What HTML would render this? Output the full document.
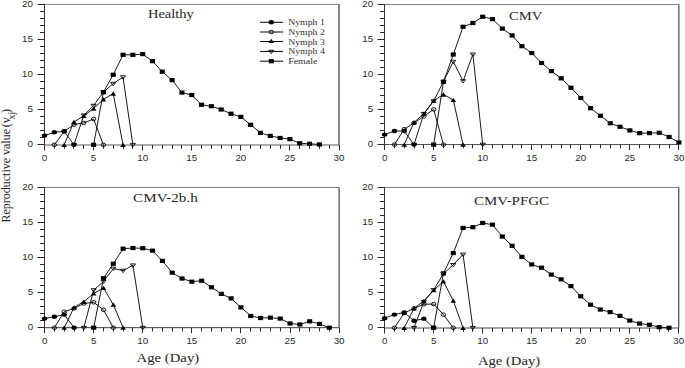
<!DOCTYPE html>
<html><head><meta charset="utf-8"><title>Reproductive value</title><style>
html,body{margin:0;padding:0;background:#fff;width:685px;height:368px;overflow:hidden;position:relative}
.tk{font-family:"Liberation Sans",sans-serif;font-size:8.6px;fill:#2a2a2a}
.ti{font-family:"Liberation Serif",serif;font-size:12px;fill:#262626}
.lg{font-family:"Liberation Serif",serif;font-size:8px;fill:#303030}
.yl{font-family:"Liberation Serif",serif;font-size:12px;fill:#262626}
</style></head><body>
<svg width="685" height="368" viewBox="0 0 685 368" style="position:absolute;left:0;top:0">
<rect width="685" height="368" fill="#fff"/>
<line x1="44.5" y1="4.4" x2="339" y2="4.4" stroke="#808080" stroke-width="1"/>
<line x1="339" y1="4.4" x2="339" y2="145" stroke="#111" stroke-width="1"/>
<line x1="44.5" y1="145" x2="339" y2="145" stroke="#5a5a5a" stroke-width="1"/>
<line x1="37.5" y1="144.5" x2="44.5" y2="144.5" stroke="#2a2a2a" stroke-width="1"/>
<line x1="40" y1="137.5" x2="44.5" y2="137.5" stroke="#2a2a2a" stroke-width="1"/>
<line x1="40" y1="130.5" x2="44.5" y2="130.5" stroke="#2a2a2a" stroke-width="1"/>
<line x1="40" y1="123.5" x2="44.5" y2="123.5" stroke="#2a2a2a" stroke-width="1"/>
<line x1="40" y1="116.5" x2="44.5" y2="116.5" stroke="#2a2a2a" stroke-width="1"/>
<line x1="37.5" y1="109.5" x2="44.5" y2="109.5" stroke="#2a2a2a" stroke-width="1"/>
<line x1="40" y1="102.5" x2="44.5" y2="102.5" stroke="#2a2a2a" stroke-width="1"/>
<line x1="40" y1="95.5" x2="44.5" y2="95.5" stroke="#2a2a2a" stroke-width="1"/>
<line x1="40" y1="88.5" x2="44.5" y2="88.5" stroke="#2a2a2a" stroke-width="1"/>
<line x1="40" y1="81.5" x2="44.5" y2="81.5" stroke="#2a2a2a" stroke-width="1"/>
<line x1="37.5" y1="74.5" x2="44.5" y2="74.5" stroke="#2a2a2a" stroke-width="1"/>
<line x1="40" y1="67.5" x2="44.5" y2="67.5" stroke="#2a2a2a" stroke-width="1"/>
<line x1="40" y1="60.5" x2="44.5" y2="60.5" stroke="#2a2a2a" stroke-width="1"/>
<line x1="40" y1="53.5" x2="44.5" y2="53.5" stroke="#2a2a2a" stroke-width="1"/>
<line x1="40" y1="46.5" x2="44.5" y2="46.5" stroke="#2a2a2a" stroke-width="1"/>
<line x1="37.5" y1="39.5" x2="44.5" y2="39.5" stroke="#2a2a2a" stroke-width="1"/>
<line x1="40" y1="32.5" x2="44.5" y2="32.5" stroke="#2a2a2a" stroke-width="1"/>
<line x1="40" y1="25.5" x2="44.5" y2="25.5" stroke="#2a2a2a" stroke-width="1"/>
<line x1="40" y1="18.5" x2="44.5" y2="18.5" stroke="#2a2a2a" stroke-width="1"/>
<line x1="40" y1="11.5" x2="44.5" y2="11.5" stroke="#2a2a2a" stroke-width="1"/>
<line x1="37.5" y1="4.5" x2="44.5" y2="4.5" stroke="#2a2a2a" stroke-width="1"/>
<line x1="44.5" y1="145" x2="44.5" y2="150.5" stroke="#2a2a2a" stroke-width="1"/>
<line x1="54.5" y1="145" x2="54.5" y2="148.8" stroke="#2a2a2a" stroke-width="1"/>
<line x1="64.5" y1="145" x2="64.5" y2="148.8" stroke="#2a2a2a" stroke-width="1"/>
<line x1="73.5" y1="145" x2="73.5" y2="148.8" stroke="#2a2a2a" stroke-width="1"/>
<line x1="83.5" y1="145" x2="83.5" y2="148.8" stroke="#2a2a2a" stroke-width="1"/>
<line x1="93.5" y1="145" x2="93.5" y2="150.5" stroke="#2a2a2a" stroke-width="1"/>
<line x1="103.5" y1="145" x2="103.5" y2="148.8" stroke="#2a2a2a" stroke-width="1"/>
<line x1="113.5" y1="145" x2="113.5" y2="148.8" stroke="#2a2a2a" stroke-width="1"/>
<line x1="123.5" y1="145" x2="123.5" y2="148.8" stroke="#2a2a2a" stroke-width="1"/>
<line x1="132.5" y1="145" x2="132.5" y2="148.8" stroke="#2a2a2a" stroke-width="1"/>
<line x1="142.5" y1="145" x2="142.5" y2="150.5" stroke="#2a2a2a" stroke-width="1"/>
<line x1="152.5" y1="145" x2="152.5" y2="148.8" stroke="#2a2a2a" stroke-width="1"/>
<line x1="162.5" y1="145" x2="162.5" y2="148.8" stroke="#2a2a2a" stroke-width="1"/>
<line x1="172.5" y1="145" x2="172.5" y2="148.8" stroke="#2a2a2a" stroke-width="1"/>
<line x1="181.5" y1="145" x2="181.5" y2="148.8" stroke="#2a2a2a" stroke-width="1"/>
<line x1="191.5" y1="145" x2="191.5" y2="150.5" stroke="#2a2a2a" stroke-width="1"/>
<line x1="201.5" y1="145" x2="201.5" y2="148.8" stroke="#2a2a2a" stroke-width="1"/>
<line x1="211.5" y1="145" x2="211.5" y2="148.8" stroke="#2a2a2a" stroke-width="1"/>
<line x1="221.5" y1="145" x2="221.5" y2="148.8" stroke="#2a2a2a" stroke-width="1"/>
<line x1="231.5" y1="145" x2="231.5" y2="148.8" stroke="#2a2a2a" stroke-width="1"/>
<line x1="240.5" y1="145" x2="240.5" y2="150.5" stroke="#2a2a2a" stroke-width="1"/>
<line x1="250.5" y1="145" x2="250.5" y2="148.8" stroke="#2a2a2a" stroke-width="1"/>
<line x1="260.5" y1="145" x2="260.5" y2="148.8" stroke="#2a2a2a" stroke-width="1"/>
<line x1="270.5" y1="145" x2="270.5" y2="148.8" stroke="#2a2a2a" stroke-width="1"/>
<line x1="280.5" y1="145" x2="280.5" y2="148.8" stroke="#2a2a2a" stroke-width="1"/>
<line x1="289.5" y1="145" x2="289.5" y2="150.5" stroke="#2a2a2a" stroke-width="1"/>
<line x1="299.5" y1="145" x2="299.5" y2="148.8" stroke="#2a2a2a" stroke-width="1"/>
<line x1="309.5" y1="145" x2="309.5" y2="148.8" stroke="#2a2a2a" stroke-width="1"/>
<line x1="319.5" y1="145" x2="319.5" y2="148.8" stroke="#2a2a2a" stroke-width="1"/>
<line x1="329.5" y1="145" x2="329.5" y2="148.8" stroke="#2a2a2a" stroke-width="1"/>
<line x1="339.5" y1="145" x2="339.5" y2="150.5" stroke="#2a2a2a" stroke-width="1"/>
<line x1="44.5" y1="3.9" x2="44.5" y2="145.5" stroke="#333" stroke-width="1"/>
<text transform="translate(33,147.3) scale(1.14,1)" class="tk" text-anchor="end">0</text>
<text transform="translate(33,112.15) scale(1.14,1)" class="tk" text-anchor="end">5</text>
<text transform="translate(33,77) scale(1.14,1)" class="tk" text-anchor="end">10</text>
<text transform="translate(33,41.85) scale(1.14,1)" class="tk" text-anchor="end">15</text>
<text transform="translate(33,6.7) scale(1.14,1)" class="tk" text-anchor="end">20</text>
<text transform="translate(44.5,160.6) scale(1.14,1)" class="tk" text-anchor="middle">0</text>
<text transform="translate(93.58,160.6) scale(1.14,1)" class="tk" text-anchor="middle">5</text>
<text transform="translate(142.67,160.6) scale(1.14,1)" class="tk" text-anchor="middle">10</text>
<text transform="translate(191.75,160.6) scale(1.14,1)" class="tk" text-anchor="middle">15</text>
<text transform="translate(240.83,160.6) scale(1.14,1)" class="tk" text-anchor="middle">20</text>
<text transform="translate(289.92,160.6) scale(1.14,1)" class="tk" text-anchor="middle">25</text>
<text transform="translate(339,160.6) scale(1.14,1)" class="tk" text-anchor="middle">30</text>
<polyline points="44.5,135.59 54.32,132.29 64.13,131.23 73.95,144.8" fill="none" stroke="#000" stroke-width="0.9" stroke-linejoin="round"/>
<polyline points="54.32,144.8 64.13,131.44 73.95,124.62 83.77,122.87 93.58,119 103.4,144.8" fill="none" stroke="#000" stroke-width="0.9" stroke-linejoin="round"/>
<polyline points="64.13,144.8 73.95,121.95 83.77,115.91 93.58,108.53 103.4,99.39 113.22,93.48 123.03,144.8" fill="none" stroke="#000" stroke-width="0.9" stroke-linejoin="round"/>
<polyline points="73.95,144.8 83.77,115.27 93.58,105.64 103.4,92.08 113.22,83.64 123.03,77.1 132.85,144.8" fill="none" stroke="#000" stroke-width="0.9" stroke-linejoin="round"/>
<polyline points="93.58,144.8 103.4,92.22 113.22,74.78 123.03,54.82 132.85,54.82 142.67,54.11 152.48,61.14 162.3,71.69 172.12,80.12 181.93,92.57 191.75,95.03 201.57,104.8 211.38,106.21 221.2,109.51 231.02,113.73 240.83,116.89 250.65,124.83 260.47,132.85 270.28,135.87 280.1,137.98 289.92,139.11 299.73,143.25 309.55,143.82 319.37,144.45" fill="none" stroke="#000" stroke-width="0.9" stroke-linejoin="round"/>
<ellipse cx="44.5" cy="135.59" rx="2.7" ry="2.2" fill="#000"/>
<ellipse cx="54.32" cy="132.29" rx="2.7" ry="2.2" fill="#000"/>
<ellipse cx="64.13" cy="131.23" rx="2.7" ry="2.2" fill="#000"/>
<ellipse cx="73.95" cy="144.8" rx="2.7" ry="2.2" fill="#000"/>
<ellipse cx="54.32" cy="144.8" rx="2.25" ry="1.75" fill="none" stroke="#000" stroke-width="0.9"/>
<ellipse cx="64.13" cy="131.44" rx="2.25" ry="1.75" fill="none" stroke="#000" stroke-width="0.9"/>
<ellipse cx="73.95" cy="124.62" rx="2.25" ry="1.75" fill="none" stroke="#000" stroke-width="0.9"/>
<ellipse cx="83.77" cy="122.87" rx="2.25" ry="1.75" fill="none" stroke="#000" stroke-width="0.9"/>
<ellipse cx="93.58" cy="119" rx="2.25" ry="1.75" fill="none" stroke="#000" stroke-width="0.9"/>
<ellipse cx="103.4" cy="144.8" rx="2.25" ry="1.75" fill="none" stroke="#000" stroke-width="0.9"/>
<path d="M64.13 142.65L66.93 146.95L61.33 146.95Z" fill="#000"/>
<path d="M73.95 119.8L76.75 124.1L71.15 124.1Z" fill="#000"/>
<path d="M83.77 113.76L86.57 118.06L80.97 118.06Z" fill="#000"/>
<path d="M93.58 106.38L96.38 110.68L90.78 110.68Z" fill="#000"/>
<path d="M103.4 97.24L106.2 101.54L100.6 101.54Z" fill="#000"/>
<path d="M113.22 91.33L116.02 95.63L110.42 95.63Z" fill="#000"/>
<path d="M123.03 142.65L125.83 146.95L120.23 146.95Z" fill="#000"/>
<path d="M71.4 143.44L76.5 143.44L73.95 146.84Z" fill="none" stroke="#000" stroke-width="0.9" stroke-linejoin="miter"/>
<path d="M81.22 113.91L86.32 113.91L83.77 117.31Z" fill="none" stroke="#000" stroke-width="0.9" stroke-linejoin="miter"/>
<path d="M91.03 104.28L96.13 104.28L93.58 107.68Z" fill="none" stroke="#000" stroke-width="0.9" stroke-linejoin="miter"/>
<path d="M100.85 90.72L105.95 90.72L103.4 94.12Z" fill="none" stroke="#000" stroke-width="0.9" stroke-linejoin="miter"/>
<path d="M110.67 82.28L115.77 82.28L113.22 85.68Z" fill="none" stroke="#000" stroke-width="0.9" stroke-linejoin="miter"/>
<path d="M120.48 75.74L125.58 75.74L123.03 79.14Z" fill="none" stroke="#000" stroke-width="0.9" stroke-linejoin="miter"/>
<path d="M130.3 143.44L135.4 143.44L132.85 146.84Z" fill="none" stroke="#000" stroke-width="0.9" stroke-linejoin="miter"/>
<rect x="91.03" y="142.7" width="5.1" height="4.2" fill="#000"/>
<rect x="100.85" y="90.12" width="5.1" height="4.2" fill="#000"/>
<rect x="110.67" y="72.68" width="5.1" height="4.2" fill="#000"/>
<rect x="120.48" y="52.72" width="5.1" height="4.2" fill="#000"/>
<rect x="130.3" y="52.72" width="5.1" height="4.2" fill="#000"/>
<rect x="140.12" y="52.01" width="5.1" height="4.2" fill="#000"/>
<rect x="149.93" y="59.04" width="5.1" height="4.2" fill="#000"/>
<rect x="159.75" y="69.59" width="5.1" height="4.2" fill="#000"/>
<rect x="169.57" y="78.02" width="5.1" height="4.2" fill="#000"/>
<rect x="179.38" y="90.47" width="5.1" height="4.2" fill="#000"/>
<rect x="189.2" y="92.93" width="5.1" height="4.2" fill="#000"/>
<rect x="199.02" y="102.7" width="5.1" height="4.2" fill="#000"/>
<rect x="208.83" y="104.11" width="5.1" height="4.2" fill="#000"/>
<rect x="218.65" y="107.41" width="5.1" height="4.2" fill="#000"/>
<rect x="228.47" y="111.63" width="5.1" height="4.2" fill="#000"/>
<rect x="238.28" y="114.79" width="5.1" height="4.2" fill="#000"/>
<rect x="248.1" y="122.73" width="5.1" height="4.2" fill="#000"/>
<rect x="257.92" y="130.75" width="5.1" height="4.2" fill="#000"/>
<rect x="267.73" y="133.77" width="5.1" height="4.2" fill="#000"/>
<rect x="277.55" y="135.88" width="5.1" height="4.2" fill="#000"/>
<rect x="287.37" y="137.01" width="5.1" height="4.2" fill="#000"/>
<rect x="297.18" y="141.15" width="5.1" height="4.2" fill="#000"/>
<rect x="307" y="141.72" width="5.1" height="4.2" fill="#000"/>
<rect x="316.82" y="142.35" width="5.1" height="4.2" fill="#000"/>
<text x="147.9" y="18" class="ti" textLength="46" lengthAdjust="spacingAndGlyphs">Healthy</text>
<line x1="384.5" y1="4.5" x2="678.9" y2="4.5" stroke="#808080" stroke-width="1"/>
<line x1="678.9" y1="4.5" x2="678.9" y2="144.5" stroke="#222" stroke-width="1"/>
<line x1="384.5" y1="144.5" x2="678.9" y2="144.5" stroke="#555" stroke-width="1"/>
<line x1="377.5" y1="144.5" x2="384.5" y2="144.5" stroke="#2a2a2a" stroke-width="1"/>
<line x1="380" y1="137.5" x2="384.5" y2="137.5" stroke="#2a2a2a" stroke-width="1"/>
<line x1="380" y1="130.5" x2="384.5" y2="130.5" stroke="#2a2a2a" stroke-width="1"/>
<line x1="380" y1="123.5" x2="384.5" y2="123.5" stroke="#2a2a2a" stroke-width="1"/>
<line x1="380" y1="116.5" x2="384.5" y2="116.5" stroke="#2a2a2a" stroke-width="1"/>
<line x1="377.5" y1="109.5" x2="384.5" y2="109.5" stroke="#2a2a2a" stroke-width="1"/>
<line x1="380" y1="102.5" x2="384.5" y2="102.5" stroke="#2a2a2a" stroke-width="1"/>
<line x1="380" y1="95.5" x2="384.5" y2="95.5" stroke="#2a2a2a" stroke-width="1"/>
<line x1="380" y1="88.5" x2="384.5" y2="88.5" stroke="#2a2a2a" stroke-width="1"/>
<line x1="380" y1="81.5" x2="384.5" y2="81.5" stroke="#2a2a2a" stroke-width="1"/>
<line x1="377.5" y1="74.5" x2="384.5" y2="74.5" stroke="#2a2a2a" stroke-width="1"/>
<line x1="380" y1="67.5" x2="384.5" y2="67.5" stroke="#2a2a2a" stroke-width="1"/>
<line x1="380" y1="60.5" x2="384.5" y2="60.5" stroke="#2a2a2a" stroke-width="1"/>
<line x1="380" y1="53.5" x2="384.5" y2="53.5" stroke="#2a2a2a" stroke-width="1"/>
<line x1="380" y1="46.5" x2="384.5" y2="46.5" stroke="#2a2a2a" stroke-width="1"/>
<line x1="377.5" y1="39.5" x2="384.5" y2="39.5" stroke="#2a2a2a" stroke-width="1"/>
<line x1="380" y1="32.5" x2="384.5" y2="32.5" stroke="#2a2a2a" stroke-width="1"/>
<line x1="380" y1="25.5" x2="384.5" y2="25.5" stroke="#2a2a2a" stroke-width="1"/>
<line x1="380" y1="18.5" x2="384.5" y2="18.5" stroke="#2a2a2a" stroke-width="1"/>
<line x1="380" y1="11.5" x2="384.5" y2="11.5" stroke="#2a2a2a" stroke-width="1"/>
<line x1="377.5" y1="4.5" x2="384.5" y2="4.5" stroke="#2a2a2a" stroke-width="1"/>
<line x1="384.5" y1="144.5" x2="384.5" y2="150" stroke="#2a2a2a" stroke-width="1"/>
<line x1="394.5" y1="144.5" x2="394.5" y2="148.3" stroke="#2a2a2a" stroke-width="1"/>
<line x1="404.5" y1="144.5" x2="404.5" y2="148.3" stroke="#2a2a2a" stroke-width="1"/>
<line x1="414.5" y1="144.5" x2="414.5" y2="148.3" stroke="#2a2a2a" stroke-width="1"/>
<line x1="423.5" y1="144.5" x2="423.5" y2="148.3" stroke="#2a2a2a" stroke-width="1"/>
<line x1="433.5" y1="144.5" x2="433.5" y2="150" stroke="#2a2a2a" stroke-width="1"/>
<line x1="443.5" y1="144.5" x2="443.5" y2="148.3" stroke="#2a2a2a" stroke-width="1"/>
<line x1="453.5" y1="144.5" x2="453.5" y2="148.3" stroke="#2a2a2a" stroke-width="1"/>
<line x1="463.5" y1="144.5" x2="463.5" y2="148.3" stroke="#2a2a2a" stroke-width="1"/>
<line x1="472.5" y1="144.5" x2="472.5" y2="148.3" stroke="#2a2a2a" stroke-width="1"/>
<line x1="482.5" y1="144.5" x2="482.5" y2="150" stroke="#2a2a2a" stroke-width="1"/>
<line x1="492.5" y1="144.5" x2="492.5" y2="148.3" stroke="#2a2a2a" stroke-width="1"/>
<line x1="502.5" y1="144.5" x2="502.5" y2="148.3" stroke="#2a2a2a" stroke-width="1"/>
<line x1="512.5" y1="144.5" x2="512.5" y2="148.3" stroke="#2a2a2a" stroke-width="1"/>
<line x1="521.5" y1="144.5" x2="521.5" y2="148.3" stroke="#2a2a2a" stroke-width="1"/>
<line x1="531.5" y1="144.5" x2="531.5" y2="150" stroke="#2a2a2a" stroke-width="1"/>
<line x1="541.5" y1="144.5" x2="541.5" y2="148.3" stroke="#2a2a2a" stroke-width="1"/>
<line x1="551.5" y1="144.5" x2="551.5" y2="148.3" stroke="#2a2a2a" stroke-width="1"/>
<line x1="561.5" y1="144.5" x2="561.5" y2="148.3" stroke="#2a2a2a" stroke-width="1"/>
<line x1="570.5" y1="144.5" x2="570.5" y2="148.3" stroke="#2a2a2a" stroke-width="1"/>
<line x1="580.5" y1="144.5" x2="580.5" y2="150" stroke="#2a2a2a" stroke-width="1"/>
<line x1="590.5" y1="144.5" x2="590.5" y2="148.3" stroke="#2a2a2a" stroke-width="1"/>
<line x1="600.5" y1="144.5" x2="600.5" y2="148.3" stroke="#2a2a2a" stroke-width="1"/>
<line x1="610.5" y1="144.5" x2="610.5" y2="148.3" stroke="#2a2a2a" stroke-width="1"/>
<line x1="620.5" y1="144.5" x2="620.5" y2="148.3" stroke="#2a2a2a" stroke-width="1"/>
<line x1="629.5" y1="144.5" x2="629.5" y2="150" stroke="#2a2a2a" stroke-width="1"/>
<line x1="639.5" y1="144.5" x2="639.5" y2="148.3" stroke="#2a2a2a" stroke-width="1"/>
<line x1="649.5" y1="144.5" x2="649.5" y2="148.3" stroke="#2a2a2a" stroke-width="1"/>
<line x1="659.5" y1="144.5" x2="659.5" y2="148.3" stroke="#2a2a2a" stroke-width="1"/>
<line x1="669.5" y1="144.5" x2="669.5" y2="148.3" stroke="#2a2a2a" stroke-width="1"/>
<line x1="678.5" y1="144.5" x2="678.5" y2="150" stroke="#2a2a2a" stroke-width="1"/>
<line x1="384.5" y1="4" x2="384.5" y2="145" stroke="#333" stroke-width="1"/>
<text transform="translate(373.1,147.1) scale(1.14,1)" class="tk" text-anchor="end">0</text>
<text transform="translate(373.1,112.1) scale(1.14,1)" class="tk" text-anchor="end">5</text>
<text transform="translate(373.1,77.1) scale(1.14,1)" class="tk" text-anchor="end">10</text>
<text transform="translate(373.1,42.1) scale(1.14,1)" class="tk" text-anchor="end">15</text>
<text transform="translate(373.1,7.1) scale(1.14,1)" class="tk" text-anchor="end">20</text>
<text transform="translate(384.6,161.3) scale(1.14,1)" class="tk" text-anchor="middle">0</text>
<text transform="translate(433.65,161.3) scale(1.14,1)" class="tk" text-anchor="middle">5</text>
<text transform="translate(482.7,161.3) scale(1.14,1)" class="tk" text-anchor="middle">10</text>
<text transform="translate(531.75,161.3) scale(1.14,1)" class="tk" text-anchor="middle">15</text>
<text transform="translate(580.8,161.3) scale(1.14,1)" class="tk" text-anchor="middle">20</text>
<text transform="translate(629.85,161.3) scale(1.14,1)" class="tk" text-anchor="middle">25</text>
<text transform="translate(678.9,161.3) scale(1.14,1)" class="tk" text-anchor="middle">30</text>
<polyline points="384.6,134.59 394.41,131.02 404.22,131.02 414.03,144.6" fill="none" stroke="#000" stroke-width="0.9" stroke-linejoin="round"/>
<polyline points="394.41,144.6 404.22,129.2 414.03,122.9 423.84,116.46 433.65,109.32 443.46,144.6" fill="none" stroke="#000" stroke-width="0.9" stroke-linejoin="round"/>
<polyline points="404.22,144.6 414.03,122.41 423.84,113.59 433.65,100.64 443.46,94.48 453.27,99.8 463.08,144.6" fill="none" stroke="#000" stroke-width="0.9" stroke-linejoin="round"/>
<polyline points="414.03,144.6 423.84,113.8 433.65,101.06 443.46,81.6 453.27,61.58 463.08,81.04 472.89,54.37 482.7,144.6" fill="none" stroke="#000" stroke-width="0.9" stroke-linejoin="round"/>
<polyline points="433.65,144.6 443.46,81.81 453.27,54.51 463.08,26.79 472.89,23.01 482.7,16.78 492.51,19.09 502.32,28.61 512.13,35.47 521.94,46.18 531.75,53.04 541.56,62.98 551.37,71.1 561.18,78.31 570.99,87.76 580.8,97.98 590.61,108.2 600.42,115.76 610.23,123.25 620.04,126.75 629.85,130.39 639.66,133.12 649.47,133.12 659.28,132.77 669.09,136.97 678.9,142.5" fill="none" stroke="#000" stroke-width="0.9" stroke-linejoin="round"/>
<ellipse cx="384.6" cy="134.59" rx="2.7" ry="2.2" fill="#000"/>
<ellipse cx="394.41" cy="131.02" rx="2.7" ry="2.2" fill="#000"/>
<ellipse cx="404.22" cy="131.02" rx="2.7" ry="2.2" fill="#000"/>
<ellipse cx="414.03" cy="144.6" rx="2.7" ry="2.2" fill="#000"/>
<ellipse cx="394.41" cy="144.6" rx="2.25" ry="1.75" fill="none" stroke="#000" stroke-width="0.9"/>
<ellipse cx="404.22" cy="129.2" rx="2.25" ry="1.75" fill="none" stroke="#000" stroke-width="0.9"/>
<ellipse cx="414.03" cy="122.9" rx="2.25" ry="1.75" fill="none" stroke="#000" stroke-width="0.9"/>
<ellipse cx="423.84" cy="116.46" rx="2.25" ry="1.75" fill="none" stroke="#000" stroke-width="0.9"/>
<ellipse cx="433.65" cy="109.32" rx="2.25" ry="1.75" fill="none" stroke="#000" stroke-width="0.9"/>
<ellipse cx="443.46" cy="144.6" rx="2.25" ry="1.75" fill="none" stroke="#000" stroke-width="0.9"/>
<path d="M404.22 142.45L407.02 146.75L401.42 146.75Z" fill="#000"/>
<path d="M414.03 120.26L416.83 124.56L411.23 124.56Z" fill="#000"/>
<path d="M423.84 111.44L426.64 115.74L421.04 115.74Z" fill="#000"/>
<path d="M433.65 98.49L436.45 102.79L430.85 102.79Z" fill="#000"/>
<path d="M443.46 92.33L446.26 96.63L440.66 96.63Z" fill="#000"/>
<path d="M453.27 97.65L456.07 101.95L450.47 101.95Z" fill="#000"/>
<path d="M463.08 142.45L465.88 146.75L460.28 146.75Z" fill="#000"/>
<path d="M411.48 143.24L416.58 143.24L414.03 146.64Z" fill="none" stroke="#000" stroke-width="0.9" stroke-linejoin="miter"/>
<path d="M421.29 112.44L426.39 112.44L423.84 115.84Z" fill="none" stroke="#000" stroke-width="0.9" stroke-linejoin="miter"/>
<path d="M431.1 99.7L436.2 99.7L433.65 103.1Z" fill="none" stroke="#000" stroke-width="0.9" stroke-linejoin="miter"/>
<path d="M440.91 80.24L446.01 80.24L443.46 83.64Z" fill="none" stroke="#000" stroke-width="0.9" stroke-linejoin="miter"/>
<path d="M450.72 60.22L455.82 60.22L453.27 63.62Z" fill="none" stroke="#000" stroke-width="0.9" stroke-linejoin="miter"/>
<path d="M460.53 79.68L465.63 79.68L463.08 83.08Z" fill="none" stroke="#000" stroke-width="0.9" stroke-linejoin="miter"/>
<path d="M470.34 53.01L475.44 53.01L472.89 56.41Z" fill="none" stroke="#000" stroke-width="0.9" stroke-linejoin="miter"/>
<path d="M480.15 143.24L485.25 143.24L482.7 146.64Z" fill="none" stroke="#000" stroke-width="0.9" stroke-linejoin="miter"/>
<rect x="431.1" y="142.5" width="5.1" height="4.2" fill="#000"/>
<rect x="440.91" y="79.71" width="5.1" height="4.2" fill="#000"/>
<rect x="450.72" y="52.41" width="5.1" height="4.2" fill="#000"/>
<rect x="460.53" y="24.69" width="5.1" height="4.2" fill="#000"/>
<rect x="470.34" y="20.91" width="5.1" height="4.2" fill="#000"/>
<rect x="480.15" y="14.68" width="5.1" height="4.2" fill="#000"/>
<rect x="489.96" y="16.99" width="5.1" height="4.2" fill="#000"/>
<rect x="499.77" y="26.51" width="5.1" height="4.2" fill="#000"/>
<rect x="509.58" y="33.37" width="5.1" height="4.2" fill="#000"/>
<rect x="519.39" y="44.08" width="5.1" height="4.2" fill="#000"/>
<rect x="529.2" y="50.94" width="5.1" height="4.2" fill="#000"/>
<rect x="539.01" y="60.88" width="5.1" height="4.2" fill="#000"/>
<rect x="548.82" y="69" width="5.1" height="4.2" fill="#000"/>
<rect x="558.63" y="76.21" width="5.1" height="4.2" fill="#000"/>
<rect x="568.44" y="85.66" width="5.1" height="4.2" fill="#000"/>
<rect x="578.25" y="95.88" width="5.1" height="4.2" fill="#000"/>
<rect x="588.06" y="106.1" width="5.1" height="4.2" fill="#000"/>
<rect x="597.87" y="113.66" width="5.1" height="4.2" fill="#000"/>
<rect x="607.68" y="121.15" width="5.1" height="4.2" fill="#000"/>
<rect x="617.49" y="124.65" width="5.1" height="4.2" fill="#000"/>
<rect x="627.3" y="128.29" width="5.1" height="4.2" fill="#000"/>
<rect x="637.11" y="131.02" width="5.1" height="4.2" fill="#000"/>
<rect x="646.92" y="131.02" width="5.1" height="4.2" fill="#000"/>
<rect x="656.73" y="130.67" width="5.1" height="4.2" fill="#000"/>
<rect x="666.54" y="134.87" width="5.1" height="4.2" fill="#000"/>
<rect x="676.35" y="140.4" width="5.1" height="4.2" fill="#000"/>
<text x="508.9" y="19.6" class="ti" textLength="33.3" lengthAdjust="spacingAndGlyphs">CMV</text>
<line x1="44.5" y1="187.5" x2="339.1" y2="187.5" stroke="#808080" stroke-width="1"/>
<line x1="339.1" y1="187.5" x2="339.1" y2="327.7" stroke="#222" stroke-width="1"/>
<line x1="44.5" y1="327.7" x2="339.1" y2="327.7" stroke="#3a3a3a" stroke-width="1"/>
<line x1="37.5" y1="327.5" x2="44.5" y2="327.5" stroke="#2a2a2a" stroke-width="1"/>
<line x1="40" y1="320.5" x2="44.5" y2="320.5" stroke="#2a2a2a" stroke-width="1"/>
<line x1="40" y1="313.5" x2="44.5" y2="313.5" stroke="#2a2a2a" stroke-width="1"/>
<line x1="40" y1="306.5" x2="44.5" y2="306.5" stroke="#2a2a2a" stroke-width="1"/>
<line x1="40" y1="299.5" x2="44.5" y2="299.5" stroke="#2a2a2a" stroke-width="1"/>
<line x1="37.5" y1="292.5" x2="44.5" y2="292.5" stroke="#2a2a2a" stroke-width="1"/>
<line x1="40" y1="285.5" x2="44.5" y2="285.5" stroke="#2a2a2a" stroke-width="1"/>
<line x1="40" y1="278.5" x2="44.5" y2="278.5" stroke="#2a2a2a" stroke-width="1"/>
<line x1="40" y1="271.5" x2="44.5" y2="271.5" stroke="#2a2a2a" stroke-width="1"/>
<line x1="40" y1="264.5" x2="44.5" y2="264.5" stroke="#2a2a2a" stroke-width="1"/>
<line x1="37.5" y1="257.5" x2="44.5" y2="257.5" stroke="#2a2a2a" stroke-width="1"/>
<line x1="40" y1="250.5" x2="44.5" y2="250.5" stroke="#2a2a2a" stroke-width="1"/>
<line x1="40" y1="243.5" x2="44.5" y2="243.5" stroke="#2a2a2a" stroke-width="1"/>
<line x1="40" y1="236.5" x2="44.5" y2="236.5" stroke="#2a2a2a" stroke-width="1"/>
<line x1="40" y1="229.5" x2="44.5" y2="229.5" stroke="#2a2a2a" stroke-width="1"/>
<line x1="37.5" y1="222.5" x2="44.5" y2="222.5" stroke="#2a2a2a" stroke-width="1"/>
<line x1="40" y1="215.5" x2="44.5" y2="215.5" stroke="#2a2a2a" stroke-width="1"/>
<line x1="40" y1="208.5" x2="44.5" y2="208.5" stroke="#2a2a2a" stroke-width="1"/>
<line x1="40" y1="201.5" x2="44.5" y2="201.5" stroke="#2a2a2a" stroke-width="1"/>
<line x1="40" y1="194.5" x2="44.5" y2="194.5" stroke="#2a2a2a" stroke-width="1"/>
<line x1="37.5" y1="187.5" x2="44.5" y2="187.5" stroke="#2a2a2a" stroke-width="1"/>
<line x1="44.5" y1="327.7" x2="44.5" y2="333.2" stroke="#2a2a2a" stroke-width="1"/>
<line x1="54.5" y1="327.7" x2="54.5" y2="331.5" stroke="#2a2a2a" stroke-width="1"/>
<line x1="64.5" y1="327.7" x2="64.5" y2="331.5" stroke="#2a2a2a" stroke-width="1"/>
<line x1="74.5" y1="327.7" x2="74.5" y2="331.5" stroke="#2a2a2a" stroke-width="1"/>
<line x1="83.5" y1="327.7" x2="83.5" y2="331.5" stroke="#2a2a2a" stroke-width="1"/>
<line x1="93.5" y1="327.7" x2="93.5" y2="333.2" stroke="#2a2a2a" stroke-width="1"/>
<line x1="103.5" y1="327.7" x2="103.5" y2="331.5" stroke="#2a2a2a" stroke-width="1"/>
<line x1="113.5" y1="327.7" x2="113.5" y2="331.5" stroke="#2a2a2a" stroke-width="1"/>
<line x1="123.5" y1="327.7" x2="123.5" y2="331.5" stroke="#2a2a2a" stroke-width="1"/>
<line x1="132.5" y1="327.7" x2="132.5" y2="331.5" stroke="#2a2a2a" stroke-width="1"/>
<line x1="142.5" y1="327.7" x2="142.5" y2="333.2" stroke="#2a2a2a" stroke-width="1"/>
<line x1="152.5" y1="327.7" x2="152.5" y2="331.5" stroke="#2a2a2a" stroke-width="1"/>
<line x1="162.5" y1="327.7" x2="162.5" y2="331.5" stroke="#2a2a2a" stroke-width="1"/>
<line x1="172.5" y1="327.7" x2="172.5" y2="331.5" stroke="#2a2a2a" stroke-width="1"/>
<line x1="182.5" y1="327.7" x2="182.5" y2="331.5" stroke="#2a2a2a" stroke-width="1"/>
<line x1="191.5" y1="327.7" x2="191.5" y2="333.2" stroke="#2a2a2a" stroke-width="1"/>
<line x1="201.5" y1="327.7" x2="201.5" y2="331.5" stroke="#2a2a2a" stroke-width="1"/>
<line x1="211.5" y1="327.7" x2="211.5" y2="331.5" stroke="#2a2a2a" stroke-width="1"/>
<line x1="221.5" y1="327.7" x2="221.5" y2="331.5" stroke="#2a2a2a" stroke-width="1"/>
<line x1="231.5" y1="327.7" x2="231.5" y2="331.5" stroke="#2a2a2a" stroke-width="1"/>
<line x1="240.5" y1="327.7" x2="240.5" y2="333.2" stroke="#2a2a2a" stroke-width="1"/>
<line x1="250.5" y1="327.7" x2="250.5" y2="331.5" stroke="#2a2a2a" stroke-width="1"/>
<line x1="260.5" y1="327.7" x2="260.5" y2="331.5" stroke="#2a2a2a" stroke-width="1"/>
<line x1="270.5" y1="327.7" x2="270.5" y2="331.5" stroke="#2a2a2a" stroke-width="1"/>
<line x1="280.5" y1="327.7" x2="280.5" y2="331.5" stroke="#2a2a2a" stroke-width="1"/>
<line x1="290.5" y1="327.7" x2="290.5" y2="333.2" stroke="#2a2a2a" stroke-width="1"/>
<line x1="299.5" y1="327.7" x2="299.5" y2="331.5" stroke="#2a2a2a" stroke-width="1"/>
<line x1="309.5" y1="327.7" x2="309.5" y2="331.5" stroke="#2a2a2a" stroke-width="1"/>
<line x1="319.5" y1="327.7" x2="319.5" y2="331.5" stroke="#2a2a2a" stroke-width="1"/>
<line x1="329.5" y1="327.7" x2="329.5" y2="331.5" stroke="#2a2a2a" stroke-width="1"/>
<line x1="339.5" y1="327.7" x2="339.5" y2="333.2" stroke="#2a2a2a" stroke-width="1"/>
<line x1="44.5" y1="187" x2="44.5" y2="328.2" stroke="#333" stroke-width="1"/>
<text transform="translate(33.1,330.2) scale(1.14,1)" class="tk" text-anchor="end">0</text>
<text transform="translate(33.1,295.12) scale(1.14,1)" class="tk" text-anchor="end">5</text>
<text transform="translate(33.1,260.05) scale(1.14,1)" class="tk" text-anchor="end">10</text>
<text transform="translate(33.1,224.98) scale(1.14,1)" class="tk" text-anchor="end">15</text>
<text transform="translate(33.1,189.9) scale(1.14,1)" class="tk" text-anchor="end">20</text>
<text transform="translate(44.6,343.5) scale(1.14,1)" class="tk" text-anchor="middle">0</text>
<text transform="translate(93.68,343.5) scale(1.14,1)" class="tk" text-anchor="middle">5</text>
<text transform="translate(142.77,343.5) scale(1.14,1)" class="tk" text-anchor="middle">10</text>
<text transform="translate(191.85,343.5) scale(1.14,1)" class="tk" text-anchor="middle">15</text>
<text transform="translate(240.93,343.5) scale(1.14,1)" class="tk" text-anchor="middle">20</text>
<text transform="translate(290.02,343.5) scale(1.14,1)" class="tk" text-anchor="middle">25</text>
<text transform="translate(339.1,343.5) scale(1.14,1)" class="tk" text-anchor="middle">30</text>
<polyline points="44.6,318.58 54.42,316.69 64.23,314.58 74.05,327.7" fill="none" stroke="#000" stroke-width="0.9" stroke-linejoin="round"/>
<polyline points="54.42,327.7 64.23,311.71 74.05,308.41 83.87,303.5 93.68,302.31 103.5,309.81 113.32,327.7" fill="none" stroke="#000" stroke-width="0.9" stroke-linejoin="round"/>
<polyline points="64.23,327.7 74.05,307.43 83.87,301.6 93.68,293.47 103.5,287.92 113.32,304.55 123.13,327.7" fill="none" stroke="#000" stroke-width="0.9" stroke-linejoin="round"/>
<polyline points="83.87,327.7 93.68,290.1 103.5,281.4 113.32,268.56 123.13,270.6 132.95,265.27 142.77,327.7" fill="none" stroke="#000" stroke-width="0.9" stroke-linejoin="round"/>
<polyline points="93.68,327.7 103.5,278.24 113.32,263.72 123.13,248.71 132.95,248.01 142.77,248.22 152.58,250.68 162.4,260.92 172.22,272.7 182.03,278.52 191.85,281.68 201.67,280.77 211.48,287.29 221.3,293.89 231.12,298.38 240.93,307.36 250.75,315.98 260.57,318.02 270.38,317.67 280.2,318.58 290.02,323.49 299.83,324.47 309.65,321.32 319.47,323.91 329.28,327.7" fill="none" stroke="#000" stroke-width="0.9" stroke-linejoin="round"/>
<ellipse cx="44.6" cy="318.58" rx="2.7" ry="2.2" fill="#000"/>
<ellipse cx="54.42" cy="316.69" rx="2.7" ry="2.2" fill="#000"/>
<ellipse cx="64.23" cy="314.58" rx="2.7" ry="2.2" fill="#000"/>
<ellipse cx="74.05" cy="327.7" rx="2.7" ry="2.2" fill="#000"/>
<ellipse cx="54.42" cy="327.7" rx="2.25" ry="1.75" fill="none" stroke="#000" stroke-width="0.9"/>
<ellipse cx="64.23" cy="311.71" rx="2.25" ry="1.75" fill="none" stroke="#000" stroke-width="0.9"/>
<ellipse cx="74.05" cy="308.41" rx="2.25" ry="1.75" fill="none" stroke="#000" stroke-width="0.9"/>
<ellipse cx="83.87" cy="303.5" rx="2.25" ry="1.75" fill="none" stroke="#000" stroke-width="0.9"/>
<ellipse cx="93.68" cy="302.31" rx="2.25" ry="1.75" fill="none" stroke="#000" stroke-width="0.9"/>
<ellipse cx="103.5" cy="309.81" rx="2.25" ry="1.75" fill="none" stroke="#000" stroke-width="0.9"/>
<ellipse cx="113.32" cy="327.7" rx="2.25" ry="1.75" fill="none" stroke="#000" stroke-width="0.9"/>
<path d="M64.23 325.55L67.03 329.85L61.43 329.85Z" fill="#000"/>
<path d="M74.05 305.28L76.85 309.58L71.25 309.58Z" fill="#000"/>
<path d="M83.87 299.45L86.67 303.75L81.07 303.75Z" fill="#000"/>
<path d="M93.68 291.32L96.48 295.62L90.88 295.62Z" fill="#000"/>
<path d="M103.5 285.77L106.3 290.07L100.7 290.07Z" fill="#000"/>
<path d="M113.32 302.4L116.12 306.7L110.52 306.7Z" fill="#000"/>
<path d="M123.13 325.55L125.93 329.85L120.33 329.85Z" fill="#000"/>
<path d="M81.32 326.34L86.42 326.34L83.87 329.74Z" fill="none" stroke="#000" stroke-width="0.9" stroke-linejoin="miter"/>
<path d="M91.13 288.74L96.23 288.74L93.68 292.14Z" fill="none" stroke="#000" stroke-width="0.9" stroke-linejoin="miter"/>
<path d="M100.95 280.04L106.05 280.04L103.5 283.44Z" fill="none" stroke="#000" stroke-width="0.9" stroke-linejoin="miter"/>
<path d="M110.77 267.2L115.87 267.2L113.32 270.6Z" fill="none" stroke="#000" stroke-width="0.9" stroke-linejoin="miter"/>
<path d="M120.58 269.24L125.68 269.24L123.13 272.64Z" fill="none" stroke="#000" stroke-width="0.9" stroke-linejoin="miter"/>
<path d="M130.4 263.91L135.5 263.91L132.95 267.31Z" fill="none" stroke="#000" stroke-width="0.9" stroke-linejoin="miter"/>
<path d="M140.22 326.34L145.32 326.34L142.77 329.74Z" fill="none" stroke="#000" stroke-width="0.9" stroke-linejoin="miter"/>
<rect x="91.13" y="325.6" width="5.1" height="4.2" fill="#000"/>
<rect x="100.95" y="276.14" width="5.1" height="4.2" fill="#000"/>
<rect x="110.77" y="261.62" width="5.1" height="4.2" fill="#000"/>
<rect x="120.58" y="246.61" width="5.1" height="4.2" fill="#000"/>
<rect x="130.4" y="245.91" width="5.1" height="4.2" fill="#000"/>
<rect x="140.22" y="246.12" width="5.1" height="4.2" fill="#000"/>
<rect x="150.03" y="248.58" width="5.1" height="4.2" fill="#000"/>
<rect x="159.85" y="258.82" width="5.1" height="4.2" fill="#000"/>
<rect x="169.67" y="270.6" width="5.1" height="4.2" fill="#000"/>
<rect x="179.48" y="276.42" width="5.1" height="4.2" fill="#000"/>
<rect x="189.3" y="279.58" width="5.1" height="4.2" fill="#000"/>
<rect x="199.12" y="278.67" width="5.1" height="4.2" fill="#000"/>
<rect x="208.93" y="285.19" width="5.1" height="4.2" fill="#000"/>
<rect x="218.75" y="291.79" width="5.1" height="4.2" fill="#000"/>
<rect x="228.57" y="296.28" width="5.1" height="4.2" fill="#000"/>
<rect x="238.38" y="305.26" width="5.1" height="4.2" fill="#000"/>
<rect x="248.2" y="313.88" width="5.1" height="4.2" fill="#000"/>
<rect x="258.02" y="315.92" width="5.1" height="4.2" fill="#000"/>
<rect x="267.83" y="315.57" width="5.1" height="4.2" fill="#000"/>
<rect x="277.65" y="316.48" width="5.1" height="4.2" fill="#000"/>
<rect x="287.47" y="321.39" width="5.1" height="4.2" fill="#000"/>
<rect x="297.28" y="322.37" width="5.1" height="4.2" fill="#000"/>
<rect x="307.1" y="319.22" width="5.1" height="4.2" fill="#000"/>
<rect x="316.92" y="321.81" width="5.1" height="4.2" fill="#000"/>
<rect x="326.73" y="325.6" width="5.1" height="4.2" fill="#000"/>
<text x="133.1" y="201.8" class="ti" textLength="64.6" lengthAdjust="spacingAndGlyphs">CMV-2b.h</text>
<text x="136.6" y="361.9" class="ti" textLength="62.6" lengthAdjust="spacingAndGlyphs">Age (Day)</text>
<line x1="384.5" y1="187.5" x2="678.8" y2="187.5" stroke="#808080" stroke-width="1"/>
<line x1="678.8" y1="187.5" x2="678.8" y2="328" stroke="#222" stroke-width="1"/>
<line x1="384.5" y1="328" x2="678.8" y2="328" stroke="#4a4a4a" stroke-width="1"/>
<line x1="377.5" y1="327.5" x2="384.5" y2="327.5" stroke="#2a2a2a" stroke-width="1"/>
<line x1="380" y1="320.5" x2="384.5" y2="320.5" stroke="#2a2a2a" stroke-width="1"/>
<line x1="380" y1="313.5" x2="384.5" y2="313.5" stroke="#2a2a2a" stroke-width="1"/>
<line x1="380" y1="306.5" x2="384.5" y2="306.5" stroke="#2a2a2a" stroke-width="1"/>
<line x1="380" y1="299.5" x2="384.5" y2="299.5" stroke="#2a2a2a" stroke-width="1"/>
<line x1="377.5" y1="292.5" x2="384.5" y2="292.5" stroke="#2a2a2a" stroke-width="1"/>
<line x1="380" y1="285.5" x2="384.5" y2="285.5" stroke="#2a2a2a" stroke-width="1"/>
<line x1="380" y1="278.5" x2="384.5" y2="278.5" stroke="#2a2a2a" stroke-width="1"/>
<line x1="380" y1="271.5" x2="384.5" y2="271.5" stroke="#2a2a2a" stroke-width="1"/>
<line x1="380" y1="264.5" x2="384.5" y2="264.5" stroke="#2a2a2a" stroke-width="1"/>
<line x1="377.5" y1="257.5" x2="384.5" y2="257.5" stroke="#2a2a2a" stroke-width="1"/>
<line x1="380" y1="250.5" x2="384.5" y2="250.5" stroke="#2a2a2a" stroke-width="1"/>
<line x1="380" y1="243.5" x2="384.5" y2="243.5" stroke="#2a2a2a" stroke-width="1"/>
<line x1="380" y1="236.5" x2="384.5" y2="236.5" stroke="#2a2a2a" stroke-width="1"/>
<line x1="380" y1="229.5" x2="384.5" y2="229.5" stroke="#2a2a2a" stroke-width="1"/>
<line x1="377.5" y1="222.5" x2="384.5" y2="222.5" stroke="#2a2a2a" stroke-width="1"/>
<line x1="380" y1="215.5" x2="384.5" y2="215.5" stroke="#2a2a2a" stroke-width="1"/>
<line x1="380" y1="208.5" x2="384.5" y2="208.5" stroke="#2a2a2a" stroke-width="1"/>
<line x1="380" y1="201.5" x2="384.5" y2="201.5" stroke="#2a2a2a" stroke-width="1"/>
<line x1="380" y1="194.5" x2="384.5" y2="194.5" stroke="#2a2a2a" stroke-width="1"/>
<line x1="377.5" y1="187.5" x2="384.5" y2="187.5" stroke="#2a2a2a" stroke-width="1"/>
<line x1="384.5" y1="328" x2="384.5" y2="333.5" stroke="#2a2a2a" stroke-width="1"/>
<line x1="394.5" y1="328" x2="394.5" y2="331.8" stroke="#2a2a2a" stroke-width="1"/>
<line x1="404.5" y1="328" x2="404.5" y2="331.8" stroke="#2a2a2a" stroke-width="1"/>
<line x1="414.5" y1="328" x2="414.5" y2="331.8" stroke="#2a2a2a" stroke-width="1"/>
<line x1="423.5" y1="328" x2="423.5" y2="331.8" stroke="#2a2a2a" stroke-width="1"/>
<line x1="433.5" y1="328" x2="433.5" y2="333.5" stroke="#2a2a2a" stroke-width="1"/>
<line x1="443.5" y1="328" x2="443.5" y2="331.8" stroke="#2a2a2a" stroke-width="1"/>
<line x1="453.5" y1="328" x2="453.5" y2="331.8" stroke="#2a2a2a" stroke-width="1"/>
<line x1="463.5" y1="328" x2="463.5" y2="331.8" stroke="#2a2a2a" stroke-width="1"/>
<line x1="472.5" y1="328" x2="472.5" y2="331.8" stroke="#2a2a2a" stroke-width="1"/>
<line x1="482.5" y1="328" x2="482.5" y2="333.5" stroke="#2a2a2a" stroke-width="1"/>
<line x1="492.5" y1="328" x2="492.5" y2="331.8" stroke="#2a2a2a" stroke-width="1"/>
<line x1="502.5" y1="328" x2="502.5" y2="331.8" stroke="#2a2a2a" stroke-width="1"/>
<line x1="512.5" y1="328" x2="512.5" y2="331.8" stroke="#2a2a2a" stroke-width="1"/>
<line x1="521.5" y1="328" x2="521.5" y2="331.8" stroke="#2a2a2a" stroke-width="1"/>
<line x1="531.5" y1="328" x2="531.5" y2="333.5" stroke="#2a2a2a" stroke-width="1"/>
<line x1="541.5" y1="328" x2="541.5" y2="331.8" stroke="#2a2a2a" stroke-width="1"/>
<line x1="551.5" y1="328" x2="551.5" y2="331.8" stroke="#2a2a2a" stroke-width="1"/>
<line x1="561.5" y1="328" x2="561.5" y2="331.8" stroke="#2a2a2a" stroke-width="1"/>
<line x1="570.5" y1="328" x2="570.5" y2="331.8" stroke="#2a2a2a" stroke-width="1"/>
<line x1="580.5" y1="328" x2="580.5" y2="333.5" stroke="#2a2a2a" stroke-width="1"/>
<line x1="590.5" y1="328" x2="590.5" y2="331.8" stroke="#2a2a2a" stroke-width="1"/>
<line x1="600.5" y1="328" x2="600.5" y2="331.8" stroke="#2a2a2a" stroke-width="1"/>
<line x1="610.5" y1="328" x2="610.5" y2="331.8" stroke="#2a2a2a" stroke-width="1"/>
<line x1="619.5" y1="328" x2="619.5" y2="331.8" stroke="#2a2a2a" stroke-width="1"/>
<line x1="629.5" y1="328" x2="629.5" y2="333.5" stroke="#2a2a2a" stroke-width="1"/>
<line x1="639.5" y1="328" x2="639.5" y2="331.8" stroke="#2a2a2a" stroke-width="1"/>
<line x1="649.5" y1="328" x2="649.5" y2="331.8" stroke="#2a2a2a" stroke-width="1"/>
<line x1="659.5" y1="328" x2="659.5" y2="331.8" stroke="#2a2a2a" stroke-width="1"/>
<line x1="668.5" y1="328" x2="668.5" y2="331.8" stroke="#2a2a2a" stroke-width="1"/>
<line x1="678.5" y1="328" x2="678.5" y2="333.5" stroke="#2a2a2a" stroke-width="1"/>
<line x1="384.5" y1="187" x2="384.5" y2="328.5" stroke="#333" stroke-width="1"/>
<text transform="translate(373.1,330.3) scale(1.14,1)" class="tk" text-anchor="end">0</text>
<text transform="translate(373.1,295.2) scale(1.14,1)" class="tk" text-anchor="end">5</text>
<text transform="translate(373.1,260.1) scale(1.14,1)" class="tk" text-anchor="end">10</text>
<text transform="translate(373.1,225) scale(1.14,1)" class="tk" text-anchor="end">15</text>
<text transform="translate(373.1,189.9) scale(1.14,1)" class="tk" text-anchor="end">20</text>
<text transform="translate(384.6,343.6) scale(1.14,1)" class="tk" text-anchor="middle">0</text>
<text transform="translate(433.63,343.6) scale(1.14,1)" class="tk" text-anchor="middle">5</text>
<text transform="translate(482.67,343.6) scale(1.14,1)" class="tk" text-anchor="middle">10</text>
<text transform="translate(531.7,343.6) scale(1.14,1)" class="tk" text-anchor="middle">15</text>
<text transform="translate(580.73,343.6) scale(1.14,1)" class="tk" text-anchor="middle">20</text>
<text transform="translate(629.77,343.6) scale(1.14,1)" class="tk" text-anchor="middle">25</text>
<text transform="translate(678.8,343.6) scale(1.14,1)" class="tk" text-anchor="middle">30</text>
<polyline points="384.6,318.18 394.41,314.6 404.21,312.43 414.02,320.78 423.83,318.67 433.63,327.8" fill="none" stroke="#000" stroke-width="0.9" stroke-linejoin="round"/>
<polyline points="394.41,327.8 404.21,313.06 414.02,308.35 423.83,304.28 433.63,304.07 443.44,314.67 453.25,327.8" fill="none" stroke="#000" stroke-width="0.9" stroke-linejoin="round"/>
<polyline points="404.21,327.8 414.02,308.35 423.83,300.91 433.63,290.17 443.44,281.47 453.25,300.7 463.05,327.8" fill="none" stroke="#000" stroke-width="0.9" stroke-linejoin="round"/>
<polyline points="414.02,327.8 423.83,301.83 433.63,289.89 443.44,273.75 453.25,264.83 463.05,254.44 472.86,327.8" fill="none" stroke="#000" stroke-width="0.9" stroke-linejoin="round"/>
<polyline points="433.63,327.8 443.44,273.39 453.25,253.04 463.05,227.91 472.86,227.2 482.67,222.99 492.47,224.68 502.28,236.54 512.09,245.81 521.89,256.9 531.7,264.48 541.51,267.71 551.31,274.59 561.12,279.36 570.93,286.1 580.73,296.28 590.54,304.7 600.35,309.55 610.15,312.08 619.96,315.87 629.77,320.57 639.57,323.52 649.38,324.78 659.19,327.17 668.99,327.8" fill="none" stroke="#000" stroke-width="0.9" stroke-linejoin="round"/>
<ellipse cx="384.6" cy="318.18" rx="2.7" ry="2.2" fill="#000"/>
<ellipse cx="394.41" cy="314.6" rx="2.7" ry="2.2" fill="#000"/>
<ellipse cx="404.21" cy="312.43" rx="2.7" ry="2.2" fill="#000"/>
<ellipse cx="414.02" cy="320.78" rx="2.7" ry="2.2" fill="#000"/>
<ellipse cx="423.83" cy="318.67" rx="2.7" ry="2.2" fill="#000"/>
<ellipse cx="433.63" cy="327.8" rx="2.7" ry="2.2" fill="#000"/>
<ellipse cx="394.41" cy="327.8" rx="2.25" ry="1.75" fill="none" stroke="#000" stroke-width="0.9"/>
<ellipse cx="404.21" cy="313.06" rx="2.25" ry="1.75" fill="none" stroke="#000" stroke-width="0.9"/>
<ellipse cx="414.02" cy="308.35" rx="2.25" ry="1.75" fill="none" stroke="#000" stroke-width="0.9"/>
<ellipse cx="423.83" cy="304.28" rx="2.25" ry="1.75" fill="none" stroke="#000" stroke-width="0.9"/>
<ellipse cx="433.63" cy="304.07" rx="2.25" ry="1.75" fill="none" stroke="#000" stroke-width="0.9"/>
<ellipse cx="443.44" cy="314.67" rx="2.25" ry="1.75" fill="none" stroke="#000" stroke-width="0.9"/>
<ellipse cx="453.25" cy="327.8" rx="2.25" ry="1.75" fill="none" stroke="#000" stroke-width="0.9"/>
<path d="M404.21 325.65L407.01 329.95L401.41 329.95Z" fill="#000"/>
<path d="M414.02 306.2L416.82 310.5L411.22 310.5Z" fill="#000"/>
<path d="M423.83 298.76L426.63 303.06L421.03 303.06Z" fill="#000"/>
<path d="M433.63 288.02L436.43 292.32L430.83 292.32Z" fill="#000"/>
<path d="M443.44 279.32L446.24 283.62L440.64 283.62Z" fill="#000"/>
<path d="M453.25 298.55L456.05 302.85L450.45 302.85Z" fill="#000"/>
<path d="M463.05 325.65L465.85 329.95L460.25 329.95Z" fill="#000"/>
<path d="M411.47 326.44L416.57 326.44L414.02 329.84Z" fill="none" stroke="#000" stroke-width="0.9" stroke-linejoin="miter"/>
<path d="M421.28 300.47L426.38 300.47L423.83 303.87Z" fill="none" stroke="#000" stroke-width="0.9" stroke-linejoin="miter"/>
<path d="M431.08 288.53L436.18 288.53L433.63 291.93Z" fill="none" stroke="#000" stroke-width="0.9" stroke-linejoin="miter"/>
<path d="M440.89 272.39L445.99 272.39L443.44 275.79Z" fill="none" stroke="#000" stroke-width="0.9" stroke-linejoin="miter"/>
<path d="M450.7 263.47L455.8 263.47L453.25 266.87Z" fill="none" stroke="#000" stroke-width="0.9" stroke-linejoin="miter"/>
<path d="M460.5 253.08L465.6 253.08L463.05 256.48Z" fill="none" stroke="#000" stroke-width="0.9" stroke-linejoin="miter"/>
<path d="M470.31 326.44L475.41 326.44L472.86 329.84Z" fill="none" stroke="#000" stroke-width="0.9" stroke-linejoin="miter"/>
<rect x="431.08" y="325.7" width="5.1" height="4.2" fill="#000"/>
<rect x="440.89" y="271.29" width="5.1" height="4.2" fill="#000"/>
<rect x="450.7" y="250.94" width="5.1" height="4.2" fill="#000"/>
<rect x="460.5" y="225.81" width="5.1" height="4.2" fill="#000"/>
<rect x="470.31" y="225.1" width="5.1" height="4.2" fill="#000"/>
<rect x="480.12" y="220.89" width="5.1" height="4.2" fill="#000"/>
<rect x="489.92" y="222.58" width="5.1" height="4.2" fill="#000"/>
<rect x="499.73" y="234.44" width="5.1" height="4.2" fill="#000"/>
<rect x="509.54" y="243.71" width="5.1" height="4.2" fill="#000"/>
<rect x="519.34" y="254.8" width="5.1" height="4.2" fill="#000"/>
<rect x="529.15" y="262.38" width="5.1" height="4.2" fill="#000"/>
<rect x="538.96" y="265.61" width="5.1" height="4.2" fill="#000"/>
<rect x="548.76" y="272.49" width="5.1" height="4.2" fill="#000"/>
<rect x="558.57" y="277.26" width="5.1" height="4.2" fill="#000"/>
<rect x="568.38" y="284" width="5.1" height="4.2" fill="#000"/>
<rect x="578.18" y="294.18" width="5.1" height="4.2" fill="#000"/>
<rect x="587.99" y="302.6" width="5.1" height="4.2" fill="#000"/>
<rect x="597.8" y="307.45" width="5.1" height="4.2" fill="#000"/>
<rect x="607.6" y="309.98" width="5.1" height="4.2" fill="#000"/>
<rect x="617.41" y="313.77" width="5.1" height="4.2" fill="#000"/>
<rect x="627.22" y="318.47" width="5.1" height="4.2" fill="#000"/>
<rect x="637.02" y="321.42" width="5.1" height="4.2" fill="#000"/>
<rect x="646.83" y="322.68" width="5.1" height="4.2" fill="#000"/>
<rect x="656.64" y="325.07" width="5.1" height="4.2" fill="#000"/>
<rect x="666.44" y="325.7" width="5.1" height="4.2" fill="#000"/>
<text x="473.9" y="204.5" class="ti" textLength="75.2" lengthAdjust="spacingAndGlyphs">CMV-PFGC</text>
<text x="477.9" y="364.6" class="ti" textLength="62.3" lengthAdjust="spacingAndGlyphs">Age (Day)</text>
<line x1="260.1" y1="22.3" x2="283.1" y2="22.3" stroke="#000" stroke-width="1"/>
<ellipse cx="271.3" cy="22.3" rx="2.7" ry="2.2" fill="#000"/>
<text x="288.2" y="25.3" class="lg" textLength="36.6" lengthAdjust="spacingAndGlyphs">Nymph 1</text>
<line x1="260.1" y1="32" x2="283.1" y2="32" stroke="#000" stroke-width="1"/>
<ellipse cx="271.3" cy="32" rx="2.25" ry="1.75" fill="none" stroke="#000" stroke-width="0.9"/>
<text x="288.2" y="35" class="lg" textLength="36.6" lengthAdjust="spacingAndGlyphs">Nymph 2</text>
<line x1="260.1" y1="41.5" x2="283.1" y2="41.5" stroke="#000" stroke-width="1"/>
<path d="M271.3 38.63L274.1 42.93L268.5 42.93Z" fill="#000"/>
<text x="288.2" y="44.5" class="lg" textLength="36.6" lengthAdjust="spacingAndGlyphs">Nymph 3</text>
<line x1="260.1" y1="51.4" x2="283.1" y2="51.4" stroke="#000" stroke-width="1"/>
<path d="M268.75 50.27L273.85 50.27L271.3 53.67Z" fill="none" stroke="#000" stroke-width="0.9" stroke-linejoin="miter"/>
<text x="288.2" y="54.4" class="lg" textLength="36.6" lengthAdjust="spacingAndGlyphs">Nymph 4</text>
<line x1="260.1" y1="61.2" x2="283.1" y2="61.2" stroke="#000" stroke-width="1"/>
<rect x="268.75" y="59.1" width="5.1" height="4.2" fill="#000"/>
<text x="288.2" y="64.2" class="lg" textLength="29.2" lengthAdjust="spacingAndGlyphs">Female</text>
<g transform="translate(10.3,222.6) rotate(-90)"><text class="yl" x="0" y="0">Reproductive value</text><text class="yl" x="95.3" y="0">(</text><text class="yl" x="99.3" y="0">v</text><text class="yl" x="103" y="4.5" style="font-size:10px">xj</text><text class="yl" x="109.7" y="0">)</text></g>
</svg>
</body></html>
